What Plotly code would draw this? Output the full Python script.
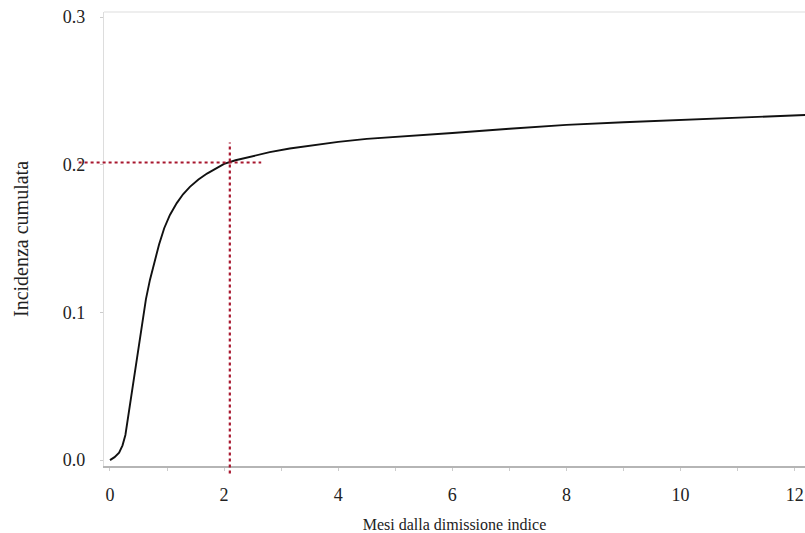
import plotly.graph_objects as go

# Cumulative incidence curve (months since index discharge)
months = [0.0, 0.08, 0.16, 0.22, 0.27, 0.31, 0.36, 0.40, 0.45, 0.50, 0.56, 0.63, 0.70,
          0.78, 0.86, 0.95, 1.05, 1.17, 1.28, 1.40, 1.55, 1.70, 1.85, 2.0, 2.2,
          2.5, 2.8, 3.15, 3.6, 4.0, 4.5, 5.0, 5.5, 6.0, 7.0, 8.0, 9.0, 10.0, 11.0, 12.2]
incidence = [0.0, 0.002, 0.005, 0.010, 0.017, 0.027, 0.040, 0.050, 0.062, 0.076, 0.092, 0.109, 0.122,
             0.135, 0.146, 0.157, 0.166, 0.174, 0.180, 0.185, 0.190, 0.194, 0.197, 0.2005, 0.203,
             0.206, 0.2085, 0.211, 0.2135, 0.2155, 0.2175, 0.219, 0.2202, 0.2215, 0.2243, 0.227, 0.2288, 0.2303, 0.2318, 0.2337]

# Reference point (2 months, 0.2)
ref_x = 2.0
ref_y = 0.2

x_range = [-0.105, 12.18]
y_range = [-0.004, 0.3034]

red = "#a8172e"

fig = go.Figure()
fig.add_trace(go.Scatter(x=months, y=incidence, mode="lines",
                         line=dict(color="#111111", width=1.9), showlegend=False))

def px(v):
    return (v - x_range[0]) / (x_range[1] - x_range[0])

def py(v):
    return (v - y_range[0]) / (y_range[1] - y_range[0])

# horizontal dotted reference line (extends past the y axis)
fig.add_shape(type="line", xref="paper", yref="paper",
              x0=px(-0.55), x1=px(2.65), y0=py(ref_y + 0.0015), y1=py(ref_y + 0.0015),
              line=dict(color=red, width=2.2, dash="dot"))
# vertical dotted reference line (extends below the x axis)
fig.add_shape(type="line", xref="paper", yref="paper",
              x0=px(ref_x + 0.1), x1=px(ref_x + 0.1), y0=py(-0.009), y1=py(0.215),
              line=dict(color=red, width=2.2, dash="dot"))
# light top frame line
fig.add_shape(type="line", xref="paper", yref="paper", x0=0, x1=1, y0=1, y1=1,
              line=dict(color="#dddddd", width=1.2))

font = "Liberation Serif, Times New Roman, serif"

fig.update_layout(
    width=805, height=533,
    margin=dict(l=104, r=0, t=12, b=65),
    paper_bgcolor="white", plot_bgcolor="white",
    font=dict(family=font, size=16, color="#222222"),
    xaxis=dict(range=x_range, tickvals=[0, 2, 4, 6, 8, 10, 12],
               showgrid=False, zeroline=False, showline=True, linecolor="#b5b5b5", linewidth=1.5,
               ticks="outside", ticklen=3, tickcolor="#cccccc",
               minor=dict(tickvals=[1, 3, 5, 7, 9, 11], ticks="outside", ticklen=3, tickcolor="#cccccc"),
               ticklabelstandoff=9,
               tickfont=dict(family=font, size=18, color="#222222"),
               title=dict(text="Mesi dalla dimissione indice", standoff=16,
                          font=dict(family=font, size=16, color="#222222"))),
    yaxis=dict(range=y_range, tickvals=[0.0, 0.1, 0.2, 0.3], tickformat=".1f",
               showgrid=False, zeroline=False, showline=True, linecolor="#dddddd", linewidth=1.2,
               ticks="outside", ticklen=3, tickcolor="#cccccc",
               ticklabelstandoff=11,
               tickfont=dict(family=font, size=18, color="#222222"),
               title=dict(text="Incidenza cumulata", standoff=28,
                          font=dict(family=font, size=20, color="#222222"))),
)

fig.write_html("out.html")
